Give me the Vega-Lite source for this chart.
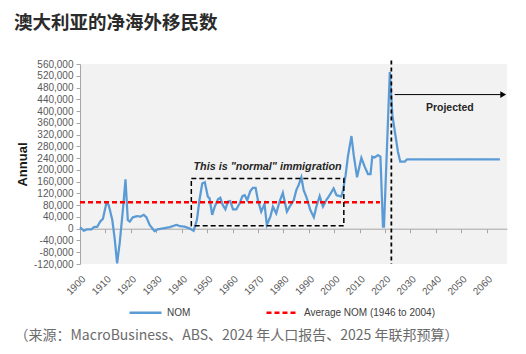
{
  "$schema": "https://vega.github.io/schema/vega-lite/v6.json",
  "width": 427,
  "height": 200,
  "autosize": {"type": "none"},
  "padding": {"left": 80, "top": 64, "right": 19, "bottom": 90},
  "background": "white",
  "config": {
    "view": {"fill": "#f2f2f2", "stroke": null},
    "font": "Liberation Sans"
  },
  "title": {
    "text": "澳大利亚的净海外移民数",
    "anchor": "start",
    "frame": "group",
    "dx": -66,
    "offset": 27,
    "font": "Noto Sans CJK SC",
    "fontSize": 18.5,
    "fontWeight": "bold",
    "color": "#2b2b2b"
  },
  "datasets": {
    "nom": [
      {"year": 1900, "nom": 5000, "series": "NOM"},
      {"year": 1901.5, "nom": -7000, "series": "NOM"},
      {"year": 1902.8, "nom": -2000, "series": "NOM"},
      {"year": 1904.5, "nom": -2000, "series": "NOM"},
      {"year": 1905.4, "nom": 5000, "series": "NOM"},
      {"year": 1906.8, "nom": 7000, "series": "NOM"},
      {"year": 1908.1, "nom": 26000, "series": "NOM"},
      {"year": 1909, "nom": 33000, "series": "NOM"},
      {"year": 1910.4, "nom": 88000, "series": "NOM"},
      {"year": 1911.3, "nom": 80000, "series": "NOM"},
      {"year": 1912.7, "nom": 30000, "series": "NOM"},
      {"year": 1913.7, "nom": -38000, "series": "NOM"},
      {"year": 1914.6, "nom": -118000, "series": "NOM"},
      {"year": 1915.6, "nom": -50000, "series": "NOM"},
      {"year": 1917, "nom": 75000, "series": "NOM"},
      {"year": 1917.9, "nom": 168000, "series": "NOM"},
      {"year": 1918.8, "nom": 30000, "series": "NOM"},
      {"year": 1919.6, "nom": 24000, "series": "NOM"},
      {"year": 1920.8, "nom": 39000, "series": "NOM"},
      {"year": 1922.5, "nom": 43000, "series": "NOM"},
      {"year": 1923.8, "nom": 41000, "series": "NOM"},
      {"year": 1925.1, "nom": 47000, "series": "NOM"},
      {"year": 1926.1, "nom": 39000, "series": "NOM"},
      {"year": 1927.4, "nom": 13000, "series": "NOM"},
      {"year": 1929.3, "nom": -8000, "series": "NOM"},
      {"year": 1930.6, "nom": -2000, "series": "NOM"},
      {"year": 1932.6, "nom": 1000, "series": "NOM"},
      {"year": 1935.2, "nom": 5000, "series": "NOM"},
      {"year": 1937.9, "nom": 13000, "series": "NOM"},
      {"year": 1939.2, "nom": 9000, "series": "NOM"},
      {"year": 1941.1, "nom": 7000, "series": "NOM"},
      {"year": 1943.1, "nom": 1000, "series": "NOM"},
      {"year": 1944.7, "nom": -7000, "series": "NOM"},
      {"year": 1946, "nom": 30000, "series": "NOM"},
      {"year": 1947, "nom": 97000, "series": "NOM"},
      {"year": 1948.1, "nom": 154000, "series": "NOM"},
      {"year": 1949.1, "nom": 158000, "series": "NOM"},
      {"year": 1950.3, "nom": 109000, "series": "NOM"},
      {"year": 1951, "nom": 103000, "series": "NOM"},
      {"year": 1952, "nom": 47000, "series": "NOM"},
      {"year": 1953, "nom": 75000, "series": "NOM"},
      {"year": 1954.3, "nom": 100000, "series": "NOM"},
      {"year": 1955.2, "nom": 105000, "series": "NOM"},
      {"year": 1956.2, "nom": 80000, "series": "NOM"},
      {"year": 1957.2, "nom": 66000, "series": "NOM"},
      {"year": 1958.2, "nom": 92000, "series": "NOM"},
      {"year": 1959.1, "nom": 94000, "series": "NOM"},
      {"year": 1960.2, "nom": 66000, "series": "NOM"},
      {"year": 1961.5, "nom": 66000, "series": "NOM"},
      {"year": 1962.8, "nom": 86000, "series": "NOM"},
      {"year": 1963.9, "nom": 111000, "series": "NOM"},
      {"year": 1964.8, "nom": 114000, "series": "NOM"},
      {"year": 1965.8, "nom": 97000, "series": "NOM"},
      {"year": 1967, "nom": 128000, "series": "NOM"},
      {"year": 1968, "nom": 139000, "series": "NOM"},
      {"year": 1969.1, "nom": 139000, "series": "NOM"},
      {"year": 1970, "nom": 97000, "series": "NOM"},
      {"year": 1971.3, "nom": 58000, "series": "NOM"},
      {"year": 1972.6, "nom": 84000, "series": "NOM"},
      {"year": 1973.5, "nom": 13000, "series": "NOM"},
      {"year": 1974.9, "nom": 41000, "series": "NOM"},
      {"year": 1975.9, "nom": 75000, "series": "NOM"},
      {"year": 1977.2, "nom": 52000, "series": "NOM"},
      {"year": 1978.5, "nom": 92000, "series": "NOM"},
      {"year": 1979.8, "nom": 122000, "series": "NOM"},
      {"year": 1981.4, "nom": 58000, "series": "NOM"},
      {"year": 1982.5, "nom": 75000, "series": "NOM"},
      {"year": 1984.1, "nom": 97000, "series": "NOM"},
      {"year": 1985.1, "nom": 131000, "series": "NOM"},
      {"year": 1986, "nom": 148000, "series": "NOM"},
      {"year": 1987.1, "nom": 175000, "series": "NOM"},
      {"year": 1988, "nom": 131000, "series": "NOM"},
      {"year": 1989.1, "nom": 107000, "series": "NOM"},
      {"year": 1990.6, "nom": 64000, "series": "NOM"},
      {"year": 1992, "nom": 39000, "series": "NOM"},
      {"year": 1993, "nom": 75000, "series": "NOM"},
      {"year": 1994.3, "nom": 111000, "series": "NOM"},
      {"year": 1995.6, "nom": 75000, "series": "NOM"},
      {"year": 1996.9, "nom": 97000, "series": "NOM"},
      {"year": 1998.2, "nom": 114000, "series": "NOM"},
      {"year": 1999.8, "nom": 137000, "series": "NOM"},
      {"year": 2000.9, "nom": 114000, "series": "NOM"},
      {"year": 2002.8, "nom": 109000, "series": "NOM"},
      {"year": 2003.5, "nom": 131000, "series": "NOM"},
      {"year": 2004.5, "nom": 182000, "series": "NOM"},
      {"year": 2005.4, "nom": 245000, "series": "NOM"},
      {"year": 2006.8, "nom": 315000, "series": "NOM"},
      {"year": 2007.7, "nom": 250000, "series": "NOM"},
      {"year": 2009, "nom": 175000, "series": "NOM"},
      {"year": 2010.7, "nom": 241000, "series": "NOM"},
      {"year": 2012, "nom": 211000, "series": "NOM"},
      {"year": 2013.3, "nom": 186000, "series": "NOM"},
      {"year": 2014.3, "nom": 186000, "series": "NOM"},
      {"year": 2015, "nom": 245000, "series": "NOM"},
      {"year": 2015.9, "nom": 242000, "series": "NOM"},
      {"year": 2017.2, "nom": 250000, "series": "NOM"},
      {"year": 2018.2, "nom": 245000, "series": "NOM"},
      {"year": 2019.2, "nom": 7000, "series": "NOM"},
      {"year": 2019.6, "nom": 7000, "series": "NOM"},
      {"year": 2021.9, "nom": 533000, "series": "NOM"},
      {"year": 2022.9, "nom": 386000, "series": "NOM"},
      {"year": 2023.8, "nom": 335000, "series": "NOM"},
      {"year": 2025.1, "nom": 261000, "series": "NOM"},
      {"year": 2026, "nom": 228000, "series": "NOM"},
      {"year": 2027.8, "nom": 228000, "series": "NOM"},
      {"year": 2028.7, "nom": 236000, "series": "NOM"},
      {"year": 2065.2, "nom": 236000, "series": "NOM"}
    ],
    "avg": [
      {"year": 1900, "nom": 90000, "series": "Average NOM (1946 to 2004)"},
      {"year": 2018, "nom": 90000, "series": "Average NOM (1946 to 2004)"}
    ]
  },
  "encoding": {
    "x": {
      "field": "year",
      "type": "quantitative",
      "scale": {"domain": [1900, 2068], "nice": false, "zero": false},
      "axis": {
        "orient": "bottom",
        "offset": -35.3,
        "values": [1900, 1910, 1920, 1930, 1940, 1950, 1960, 1970, 1980, 1990, 2000, 2010, 2020, 2030, 2040, 2050, 2060],
        "format": "d",
        "labelOverlap": false,
        "labelAngle": -45,
        "labelAlign": "right",
        "labelBaseline": "top",
        "labelPadding": 41,
        "labelFontSize": 10,
        "labelColor": "#595959",
        "labelFont": "Liberation Sans",
        "tickSize": 4,
        "tickColor": "#a6a6a6",
        "domainColor": "#a6a6a6",
        "grid": false,
        "title": "（来源：MacroBusiness、ABS、2024 年人口报告、2025 年联邦预算）",
        "titleFont": "Noto Sans CJK SC",
        "titleFontSize": 14,
        "titleFontWeight": "normal",
        "titleColor": "#6b6b6b",
        "titleX": -66,
        "titleY": 107,
        "titleAlign": "left",
        "titleBaseline": "middle",
        "titleAngle": 0
      }
    },
    "y": {
      "field": "nom",
      "type": "quantitative",
      "scale": {"domain": [-120000, 560000], "nice": false, "zero": false},
      "axis": {
        "values": [-120000, -80000, -40000, 0, 40000, 80000, 120000, 160000, 200000, 240000, 280000, 320000, 360000, 400000, 440000, 480000, 520000, 560000],
        "labelExpr": "replace(format(datum.value, ','), '\u2212', '-')",
        "labelOverlap": false,
        "labelFontSize": 10,
        "labelColor": "#595959",
        "labelFont": "Liberation Sans",
        "labelPadding": 3,
        "tickSize": 4,
        "tickColor": "#a6a6a6",
        "domainColor": "#a6a6a6",
        "grid": false,
        "title": "Annual",
        "titleFont": "Liberation Sans",
        "titleFontSize": 13,
        "titleFontWeight": "bold",
        "titleColor": "#1a1a1a",
        "titleX": -58,
        "titleY": 100,
        "titleAngle": -90,
        "titleAlign": "center",
        "titleBaseline": "middle"
      }
    }
  },
  "layer": [
    {
      "data": {"name": "nom"},
      "mark": {"type": "line", "strokeWidth": 2.25},
      "encoding": {
        "color": {
          "field": "series",
          "type": "nominal",
          "scale": {"domain": ["NOM", "Average NOM (1946 to 2004)"], "range": ["#5b9bd5", "#ff0000"]},
          "legend": {
            "orient": "none",
            "legendX": 48,
            "legendY": 231,
            "direction": "horizontal",
            "title": null,
            "symbolType": "stroke",
            "symbolSize": 1024,
            "symbolStrokeWidth": 2.5,
            "labelFontSize": 10,
            "labelFont": "Liberation Sans",
            "labelColor": "#404040",
            "labelOffset": 4,
            "columnPadding": 70
          }
        },
        "strokeDash": {
          "field": "series",
          "type": "nominal",
          "scale": {"domain": ["NOM", "Average NOM (1946 to 2004)"], "range": [[1, 0], [5, 3]]},
          "legend": {
            "orient": "none",
            "legendX": 48,
            "legendY": 231,
            "direction": "horizontal",
            "title": null,
            "symbolType": "stroke",
            "symbolSize": 1024,
            "symbolStrokeWidth": 2.5,
            "labelFontSize": 10,
            "labelFont": "Liberation Sans",
            "labelColor": "#404040",
            "labelOffset": 4,
            "columnPadding": 70
          }
        }
      }
    },
    {
      "data": {"name": "avg"},
      "mark": {"type": "line", "strokeWidth": 2.5},
      "encoding": {
        "color": {"field": "series", "type": "nominal"},
        "strokeDash": {"field": "series", "type": "nominal"}
      }
    },
    {
      "data": {"values": [{"year": 1943.8, "year2": 2003.8, "nom": 10000, "nom2": 171000}]},
      "mark": {"type": "rect", "fill": "transparent", "stroke": "#000000", "strokeWidth": 1.5, "strokeDash": [5, 3]},
      "encoding": {
        "x2": {"field": "year2"},
        "y2": {"field": "nom2"}
      }
    },
    {
      "data": {"values": [{"year": 2022.5, "nom": 572000, "nom2": -120000}]},
      "mark": {"type": "rule", "color": "#000000", "strokeWidth": 1.75, "strokeDash": [4, 3], "clip": false},
      "encoding": {
        "y2": {"field": "nom2"}
      }
    },
    {
      "data": {"values": [{"year": 2023.8, "year2": 2066, "nom": 456000}]},
      "mark": {"type": "rule", "color": "#000000", "strokeWidth": 1},
      "encoding": {
        "x2": {"field": "year2"}
      }
    },
    {
      "data": {"values": [{"year": 2066.5, "nom": 456000}]},
      "mark": {"type": "point", "shape": "triangle-right", "filled": true, "color": "#000000", "size": 45, "opacity": 1}
    },
    {
      "data": {"values": [{"year": 2045.5, "nom": 412000, "label": "Projected"}]},
      "mark": {"type": "text", "font": "Liberation Sans", "fontSize": 10.5, "fontWeight": "bold", "color": "#262626", "align": "center", "baseline": "middle"},
      "encoding": {
        "text": {"field": "label"}
      }
    },
    {
      "data": {"values": [{"year": 1973.8, "nom": 210000, "label": "This is \"normal\" immigration"}]},
      "mark": {"type": "text", "font": "Liberation Sans", "fontSize": 10.8, "fontWeight": "bold", "fontStyle": "italic", "color": "#262626", "align": "center", "baseline": "middle"},
      "encoding": {
        "text": {"field": "label"}
      }
    }
  ]
}
